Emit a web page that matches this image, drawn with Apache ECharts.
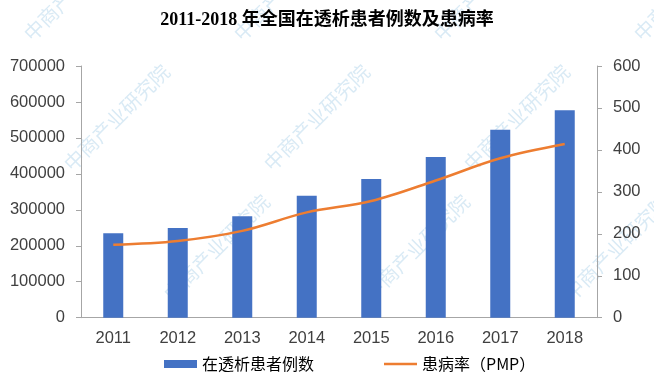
<!DOCTYPE html>
<html><head><meta charset="utf-8">
<script src="https://cdn.jsdelivr.net/npm/echarts@6/dist/echarts.min.js"></script>
<style>html,body{margin:0;padding:0;background:#fff}#c{width:654px;height:389px}</style>
</head><body><div id="c"></div>
<script>
const years = ['2011','2012','2013','2014','2015','2016','2017','2018'];
const patients = [234800, 249500, 282000, 339400, 385800, 447000, 523000, 577000];
const pmp = [174, 183, 207, 251, 278, 327, 380, 414];
const leftTicks = [0, 700000, 100000];
const rightTicks = [0, 600, 100];

const chart = echarts.init(document.getElementById('c'));
const axisFont = {color:'#404040', fontSize:16.5, fontFamily:'Liberation Sans, Arial'};
const marks = [];
const wmPos = [[20,30],[230,30],[430,30],[630,30],[60,160],[260,160],[460,160],[160,290],[360,290],[560,290]];
wmPos.forEach(p=>marks.push({type:'text', x:p[0], y:p[1], rotation:Math.PI/4, silent:true, z:-1,
  style:{text:'中商产业研究院', fill:'rgba(120,180,220,0.28)', font:'20px "Noto Sans CJK SC"'}}));
chart.setOption({
  animation:false,
  title:{text:'2011-2018 年全国在透析患者例数及患病率', left:'center', top:6,
    textStyle:{fontSize:18, fontWeight:'bold', color:'#000', fontFamily:'Liberation Serif, "Noto Sans CJK SC"'}},
  grid:{left:81, right:57, top:66, bottom:71.3},
  legend:{bottom:12, left:159, itemGap:70, itemWidth:33, itemHeight:8,
    textStyle:{fontSize:16, color:'#000', fontFamily:'"Noto Sans CJK SC"'},
    data:[{name:'在透析患者例数', icon:'rect'}, {name:'患病率（PMP）', icon:'path://M0,0H40V3H0Z'}]},
  graphic: marks,
  xAxis:{type:'category', data:years,
    axisLine:{lineStyle:{color:'#a6a6a6'}},
    axisTick:{alignWithLabel:false, length:5, lineStyle:{color:'#a6a6a6'}},
    axisLabel:Object.assign({margin:12}, axisFont)},
  yAxis:[
    {type:'value', min:leftTicks[0], max:leftTicks[1], interval:leftTicks[2],
     axisLine:{show:true, lineStyle:{color:'#a6a6a6'}},
     axisTick:{show:true, length:5, lineStyle:{color:'#a6a6a6'}},
     splitLine:{show:false},
     axisLabel:Object.assign({margin:16, formatter:v=>String(v)}, axisFont)},
    {type:'value', min:rightTicks[0], max:rightTicks[1], interval:rightTicks[2],
     axisLine:{show:true, lineStyle:{color:'#a6a6a6'}},
     axisTick:{show:true, length:5, lineStyle:{color:'#a6a6a6'}},
     splitLine:{show:false},
     axisLabel:Object.assign({margin:16, formatter:v=>String(v)}, axisFont)}
  ],
  series:[
    {name:'在透析患者例数', type:'bar', data:patients, barWidth:20,
     itemStyle:{color:'#4472C4'}},
    {name:'患病率（PMP）', type:'line', yAxisIndex:1, data:pmp, smooth:0.35,
     symbol:'none', lineStyle:{color:'#ED7D31', width:2.5}, itemStyle:{color:'#ED7D31'}}
  ]
});
</script></body></html>
